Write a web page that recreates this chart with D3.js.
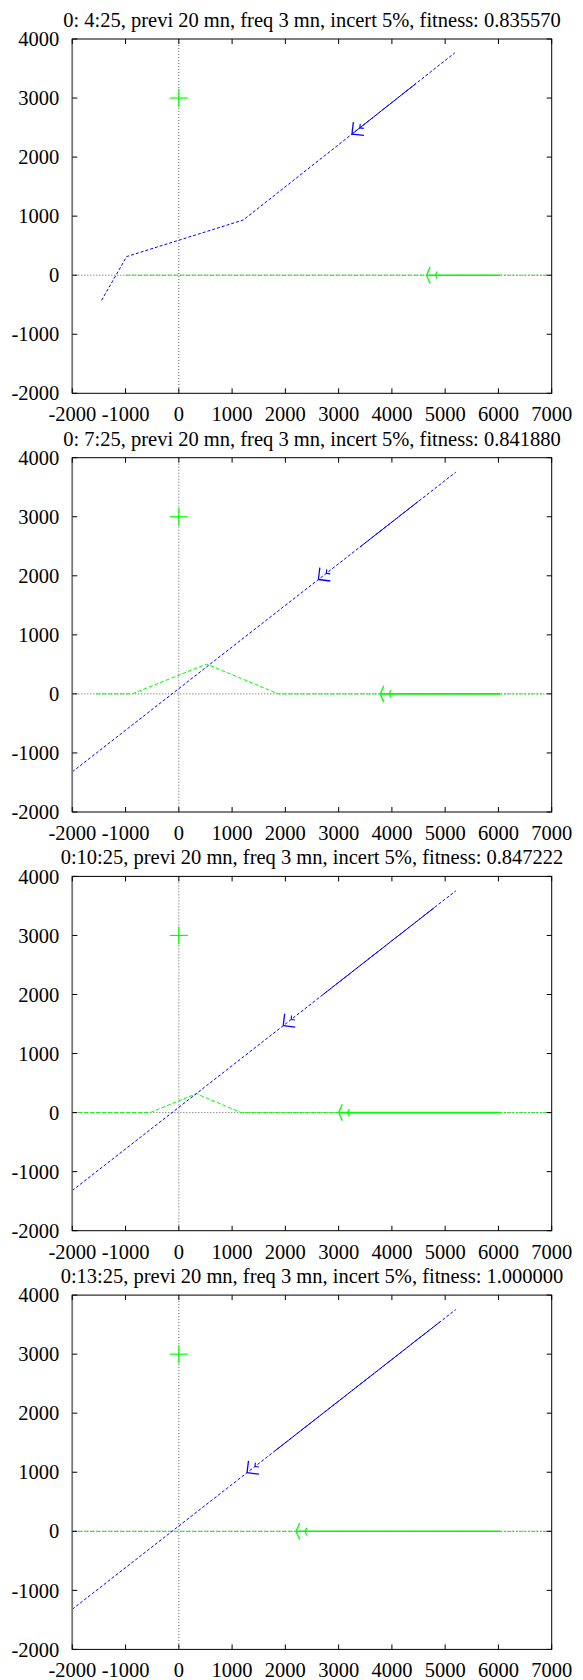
<!DOCTYPE html>
<html><head><meta charset="utf-8">
<script src="https://cdn.jsdelivr.net/npm/d3@7"></script>
<style>html,body{margin:0;padding:0;background:#fff;}svg{display:block;}</style>
</head><body>
<script>
// ---- data ----
const titles = [
  "0: 4:25, previ 20 mn, freq 3 mn, incert 5%, fitness: 0.835570",
  "0: 7:25, previ 20 mn, freq 3 mn, incert 5%, fitness: 0.841880",
  "0:10:25, previ 20 mn, freq 3 mn, incert 5%, fitness: 0.847222",
  "0:13:25, previ 20 mn, freq 3 mn, incert 5%, fitness: 1.000000"
];
const xTicks = [-2000, -1000, 0, 1000, 2000, 3000, 4000, 5000, 6000, 7000];
const yTicks = [-2000, -1000, 0, 1000, 2000, 3000, 4000];
const greenCross = [0, 3000];
// blue object: forecast (dashed), track (solid), current position (arrow)
const blueForecast = [
  [[-1450, -425], [-980, 315], [1210, 935], [5180, 3765]],
  [[-2000, -1320], [5200, 3756]],
  [[-2000, -1320], [5200, 3756]],
  [[-2000, -1320], [5200, 3756]]
];
const blueTrack = [
  [[3250, 2390], [4450, 3245]],
  [[3400, 2487], [4500, 3263]],
  [[2700, 1994], [4800, 3474]],
  [[1800, 1359], [4900, 3545]]
];
const blueArrow = [[3250, 2390], [2620, 1937], [1960, 1472], [1280, 992]];
// green object
const greenForecast = [
  [[-1000, 0], [4650, 0]],
  [[-1550, 0], [-880, 0], [520, 505], [1870, 0], [3780, 0]],
  [[-2000, 0], [-540, 0], [330, 320], [1170, 0], [3000, 0]],
  [[-2000, 0], [2200, 0]]
];
const greenTrack = [
  [[4650, 0], [6030, 0]],
  [[3780, 0], [6030, 0]],
  [[3000, 0], [6030, 0]],
  [[2200, 0], [6030, 0]]
];
const greenTail = [
  [[6030, 0], [6900, 0]],
  [[6030, 0], [6850, 0]],
  [[6030, 0], [6980, 0]],
  [[6030, 0], [6980, 0]]
];
const greenArrow = [[4650, 0], [3780, 0], [3000, 0], [2200, 0]];

// ---- layout ----
const W = 583, H = 1680, PANEL = 418.7;
const L = 72.3, R = 551.7, T = 39, B = 393.3;
const FONT = "Liberation Serif, Times New Roman, serif";
const FS = 20.5;
const BLUE = "#0000ff", GREEN = "#00ff00";

const svg = d3.select("body").append("svg").attr("width", W).attr("height", H);
const x = d3.scaleLinear().domain([-2000, 7000]).range([L, R]);
const y = d3.scaleLinear().domain([-2000, 4000]).range([B, T]);
const line = d3.line().x(d => x(d[0])).y(d => y(d[1]));

function arrowHead(g, tip, toward, len, ang, color, w) {
  const px = x(tip[0]), py = y(tip[1]);
  const dx = x(toward[0]) - px, dy = y(toward[1]) - py;
  const a = Math.atan2(dy, dx);
  [ang, -ang].forEach(s => {
    g.append("line").attr("x1", px).attr("y1", py)
      .attr("x2", px + len * Math.cos(a + s)).attr("y2", py + len * Math.sin(a + s))
      .attr("stroke", color).attr("stroke-width", w);
  });
  return a;
}

titles.forEach((title, i) => {
  const g = svg.append("g").attr("transform", `translate(0,${i * PANEL})`);
  g.append("text").attr("x", (L + R) / 2).attr("y", 27).attr("text-anchor", "middle")
    .attr("font-family", FONT).attr("font-size", FS).text(title);

  // zero axes
  g.append("line").attr("x1", x(0)).attr("x2", x(0)).attr("y1", T).attr("y2", B)
    .attr("stroke", "#333").attr("stroke-width", 0.8).attr("stroke-dasharray", "1,2");
  g.append("line").attr("x1", L).attr("x2", R).attr("y1", y(0)).attr("y2", y(0))
    .attr("stroke", "#333").attr("stroke-width", 0.8).attr("stroke-dasharray", "1,2");

  // green forecast / track
  g.append("path").attr("d", line(greenForecast[i])).attr("fill", "none")
    .attr("stroke", GREEN).attr("stroke-width", 1).attr("stroke-dasharray", "4,2");
  g.append("path").attr("d", line(greenTail[i])).attr("fill", "none")
    .attr("stroke", GREEN).attr("stroke-width", 1).attr("stroke-dasharray", "2,2");
  g.append("path").attr("d", line(greenTrack[i])).attr("fill", "none")
    .attr("stroke", GREEN).attr("stroke-width", 1.6);

  // blue forecast / track
  g.append("path").attr("d", line(blueForecast[i])).attr("fill", "none")
    .attr("stroke", BLUE).attr("stroke-width", 1).attr("stroke-dasharray", "3,2");
  g.append("path").attr("d", line(blueTrack[i])).attr("fill", "none")
    .attr("stroke", BLUE).attr("stroke-width", 1);

  // arrows
  const ga = greenArrow[i];
  const a1 = arrowHead(g, ga, greenTrack[i][1], 9, 1.15, GREEN, 1.3);
  const ga2 = x.invert(x(ga[0]) + 9 * Math.cos(a1));
  arrowHead(g, [ga2, ga[1]], greenTrack[i][1], 4, 1.15, GREEN, 1.2);
  const ba = blueArrow[i];
  const end = blueForecast[i][blueForecast[i].length - 1];
  const a2 = arrowHead(g, ba, end, 12, Math.PI / 4, BLUE, 1.3);
  const bx2 = x.invert(x(ba[0]) + 10 * Math.cos(a2)), by2 = y.invert(y(ba[1]) + 10 * Math.sin(a2));
  arrowHead(g, [bx2, by2], end, 4, Math.PI / 4, BLUE, 1.1);

  // green cross
  const cx = x(greenCross[0]), cy = y(greenCross[1]);
  g.append("line").attr("x1", cx - 9).attr("x2", cx + 9).attr("y1", cy).attr("y2", cy).attr("stroke", GREEN).attr("stroke-width", 1.2);
  g.append("line").attr("x1", cx).attr("x2", cx).attr("y1", cy - 9).attr("y2", cy + 9).attr("stroke", GREEN).attr("stroke-width", 1.2);

  // frame
  g.append("rect").attr("x", L).attr("y", T).attr("width", R - L).attr("height", B - T)
    .attr("fill", "none").attr("stroke", "#000").attr("stroke-width", 1);
  g.append("line").attr("x1", L).attr("x2", L).attr("y1", T).attr("y2", B).attr("stroke", "#777").attr("stroke-width", 1.6);

  // ticks
  const tl = 5;
  xTicks.forEach(v => {
    g.append("line").attr("x1", x(v)).attr("x2", x(v)).attr("y1", B).attr("y2", B - tl).attr("stroke", "#000");
    g.append("line").attr("x1", x(v)).attr("x2", x(v)).attr("y1", T).attr("y2", T + tl).attr("stroke", "#000");
    g.append("text").attr("x", x(v)).attr("y", B + 28).attr("text-anchor", "middle")
      .attr("font-family", FONT).attr("font-size", FS).text(v);
  });
  yTicks.forEach(v => {
    g.append("line").attr("x1", L).attr("x2", L + tl).attr("y1", y(v)).attr("y2", y(v)).attr("stroke", "#000");
    g.append("line").attr("x1", R).attr("x2", R - tl).attr("y1", y(v)).attr("y2", y(v)).attr("stroke", "#000");
    g.append("text").attr("x", L - 13).attr("y", y(v)).attr("dy", "0.35em").attr("text-anchor", "end")
      .attr("font-family", FONT).attr("font-size", FS).text(v);
  });
});
</script>
</body></html>
